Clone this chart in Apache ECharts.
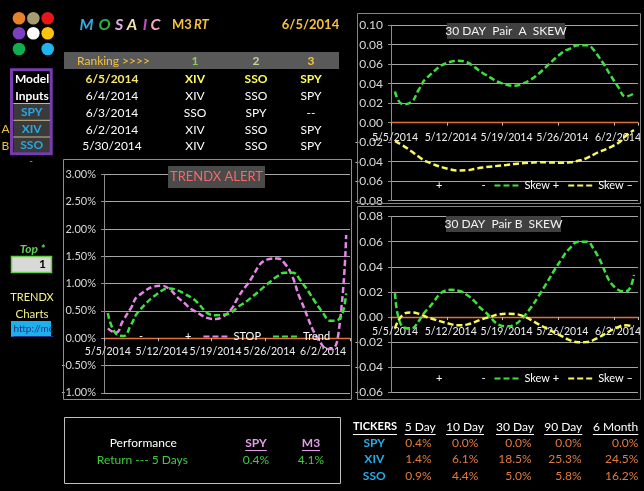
<!DOCTYPE html>
<html><head><meta charset="utf-8">
<script src="https://cdn.jsdelivr.net/npm/echarts@6/dist/echarts.min.js"></script>
<style>html,body{margin:0;padding:0;background:#000;}#c{width:644px;height:491px;}</style>
</head><body><div id="c"></div>
<script>
// ---------- DATA ----------
const daysAB = ['5/5/2014','5/6/2014','5/7/2014','5/8/2014','5/9/2014','5/10/2014','5/11/2014','5/12/2014','5/13/2014','5/14/2014','5/15/2014','5/16/2014','5/17/2014','5/18/2014','5/19/2014','5/20/2014','5/21/2014','5/22/2014','5/23/2014','5/24/2014','5/25/2014','5/26/2014','5/27/2014','5/28/2014','5/29/2014','5/30/2014','5/31/2014','6/1/2014','6/2/2014','6/3/2014','6/4/2014'];
const daysC = daysAB.concat(['6/5/2014']);
const tradeAB = ['5/5/2014','5/6/2014','5/7/2014','5/8/2014','5/9/2014','5/12/2014','5/13/2014','5/14/2014','5/15/2014','5/16/2014','5/19/2014','5/20/2014','5/21/2014','5/22/2014','5/23/2014','5/26/2014','5/27/2014','5/28/2014','5/29/2014','5/30/2014','6/2/2014','6/3/2014','6/4/2014'];
const tradeC = tradeAB.concat(['6/5/2014']);

const skewAPlus  = [0.032,0.019,0.021,0.034,0.046,0.0625,0.0635,0.062,0.057,0.051,0.039,0.038,0.040,0.044,0.050,0.072,0.076,0.0795,0.0795,0.074,0.037,0.027,0.030];
const skewAMinus = [-0.019,-0.0235,-0.029,-0.035,-0.040,-0.048,-0.049,-0.0488,-0.0474,-0.046,-0.0433,-0.0423,-0.0416,-0.041,-0.0406,-0.041,-0.0406,-0.039,-0.0365,-0.0324,-0.021,-0.0133,-0.0075];
const skewBPlus  = [0.019,-0.008,-0.009,-0.003,0.0058,0.0217,0.021,0.0177,0.0125,0.0058,-0.0074,-0.006,-0.0008,0.007,0.0164,0.047,0.055,0.060,0.060,0.0535,0.0217,0.0204,0.0336];
const skewBMinus = [-0.009,0.0019,0.0037,0.0026,0.000,-0.0056,-0.0066,-0.006,-0.004,-0.0016,0.0026,0.0024,0.001,-0.002,-0.0056,-0.0154,-0.0185,-0.020,-0.0199,-0.018,-0.008,-0.0066,-0.0074];
const stopPct  = [0.18,0.10,0.33,0.55,0.78,0.96,0.90,0.76,0.64,0.52,0.35,0.40,0.52,0.76,0.96,1.45,1.46,1.37,1.13,0.73,-0.15,-0.20,0.09,1.89];
const trendPct = [0.46,0.09,0.04,0.24,0.49,0.87,0.91,0.88,0.81,0.73,0.42,0.43,0.47,0.58,0.67,1.02,1.13,1.20,1.20,1.07,0.46,0.32,0.34,0.82];

const rankHeads = ['1','2','3'];
const rankDates = ['6/5/2014','6/4/2014','6/3/2014','6/2/2014','5/30/2014'];
const rank1 = ['XIV','XIV','SSO','XIV','XIV'];
const rank2 = ['SSO','SSO','SPY','SSO','SSO'];
const rank3 = ['SPY','SPY','--','SPY','SPY'];
const modelInputs = ['SPY','XIV','SSO'];
const tickers = ['SPY','XIV','SSO'];
const periods = ['5 Day','10 Day','30 Day','90 Day','6 Month'];
const retSPY = [0.4,0.0,0.0,0.0,0.0];
const retXIV = [1.4,6.1,18.5,25.3,24.5];
const retSSO = [0.9,4.4,5.0,5.8,16.2];
const perfSPY = 0.4, perfM3 = 4.1;

// ---------- COLORS ----------
const GREEN = '#3ee03e', YELLOW = '#f7f760', PINK = '#e886e8';
const GRID = '#a6a6a6', ZERO = '#e2703a', FONT = 'Lato';

const cv = document.createElement('canvas').getContext('2d');
function tw(s, font){ cv.font = font; return cv.measureText(s).width; }

const G = [];
function T(x,y,s,fill,font,align,z){ G.push({type:'text', x:x, y:y, z:z||20, style:{text:s, fill:fill, font:font, align:align||'center', verticalAlign:'middle'}}); }
function R(x,y,w,h,fill,stroke,lw,z){ G.push({type:'rect', z:z||5, shape:{x:x,y:y,width:w,height:h}, style:{fill:fill||'transparent', stroke:stroke||'transparent', lineWidth:lw||0}}); }
function L(x1,y1,x2,y2,c,lw){ G.push({type:'line', z:20, shape:{x1:x1,y1:y1,x2:x2,y2:y2}, style:{stroke:c, lineWidth:lw||1}}); }
function Cc(cx,cy,r,fill){ G.push({type:'circle', z:20, shape:{cx:cx,cy:cy,r:r}, style:{fill:fill}}); }
function U(x,y,s,fill,font,align){ T(x,y,s,fill,font,align); const w=tw(s,font); let x0 = align==='right'? x-w : (align==='left'? x : x-w/2); L(x0, Math.round(y+7)+0.5, x0+w, Math.round(y+7)+0.5, fill, 1); }

// logo
const logo = [[19,18.3,'#e8812b'],[33.3,18.3,'#a59c72'],[47.7,18.3,'#e8151b'],[19,33.3,'#7b3fbf'],[33.3,33.3,'#ffffff'],[47.7,33.3,'#ffc20e'],[19,49,'#0fae4f'],[47.7,49,'#1fb5ee']];
logo.forEach(c=>Cc(c[0],c[1],6.3,c[2]));
// title
const mos = [['M',86.5,'#36a9e1'],['O',104.5,'#27b24a'],['S',119,'#dcaee0'],['A',132,'#f2e6a8'],['I',145,'#c04ac8'],['C',155.5,'#f2a8c4']];
mos.forEach(m=>T(m[1],24.5,m[0],m[2],'italic bold 16px '+FONT));
T(172,25,'M3','#f5c23c','bold 13px '+FONT,'left');
T(194,25,'RT','#f5c23c','italic bold 13px '+FONT,'left');
T(310.5,25,'6/5/2014','#f5c23c','bold 13px '+FONT);
// ranking bar
R(64,52,275,17,'#595959',null,0,5);
T(113.5,61,'Ranking >>>>','#f5c23c','12px '+FONT);
const headCols = [195,256,311], headColors = ['#8fd14f','#c3d69b','#f5c23c'];
rankHeads.forEach((h,i)=>T(headCols[i],61,h,headColors[i],'bold 12px '+FONT));
const rowY = [79.3,96.3,113.3,130,146.3];
rankDates.forEach((d,i)=>{
  const first = i===0, c = first ? '#ffff55' : '#ffffff', f = (first?'bold ':'')+'12px '+FONT;
  T(112,rowY[i],d,first?'#f5e66b':'#ffffff',f);
  T(195,rowY[i],rank1[i],c,f); T(256,rowY[i],rank2[i],c,f); T(311,rowY[i],rank3[i],c,f);
});
// model inputs box
R(13.3,104,36.7,48.7,'#3a3a3a',null,0,4);
L(13.3,103.5,50,103.5,'#c9b98a',1); L(13.3,120.3,50,120.3,'#c9b98a',1); L(13.3,137,50,137,'#c9b98a',1);
R(11.5,69.8,39.7,84,null,'#7a3bb0',3,6);
T(32,79.3,'Model','#ffffff','bold 12px '+FONT);
T(32,96.3,'Inputs','#ffffff','bold 12px '+FONT);
modelInputs.forEach((m,i)=>T(31.7,[112.3,129,145.5][i],m,'#2aa7e1','bold 12px '+FONT));
T(5.5,129.5,'A','#f0c040','12px '+FONT); T(5.5,146,'B','#f0c040','12px '+FONT);
T(31,161,'-','#aaaaaa','10px '+FONT);
// top box
T(32.5,249,'Top *','#5fd35b','italic bold 12px '+FONT);
R(11.5,256.5,40,16,'#d9d9d9','#66cc44',1.5,6);
T(46,264.5,'1','#000000','bold 12px '+FONT,'right');
T(32,297.3,'TRENDX','#f5f08a','11px '+FONT);
T(32,314,'Charts','#f5f08a','11.5px '+FONT);
R(11,321,40,15.7,'#1db0ee',null,0,6);
U(13.5,328.8,'http://mc','#26337a','10px '+FONT,'left');
// chart borders
R(357.5,13.5,283,190,null,'#858585',1,1);
R(357.5,206.5,283,193,null,'#858585',1,1);
R(63.5,159.5,288,240,null,'#8f8f8f',1,1);
// chart titles
R(447,23,118,16,'#404040',null,0,10); T(506,31.3,'30 DAY  Pair  A  SKEW','#f2f2f2','12px '+FONT,'center',11);
R(446,216,115,16,'#404040',null,0,10); T(503.5,224,'30 DAY  Pair B  SKEW','#f2f2f2','12px '+FONT,'center',11);
R(168,166,97,22,'#4a4a4a',null,0,10); T(216.5,177,'TRENDX ALERT','#f26a6a','13px '+FONT,'center',11);
// performance box
R(64.5,417.5,276,66,null,'#bfbfbf',1,5);
T(143.3,443.3,'Performance','#ffffff','12px '+FONT);
T(142.3,460,'Return --- 5 Days','#3fcc3f','12px '+FONT);
U(256,443,'SPY','#e49ee6','bold 12px '+FONT,'center');
U(311,443,'M3','#e49ee6','bold 12px '+FONT,'center');
T(256,460,perfSPY.toFixed(1)+'%','#3fcc3f','12px '+FONT);
T(311,460,perfM3.toFixed(1)+'%','#3fcc3f','12px '+FONT);
// tickers table
U(375,426.7,'TICKERS','#ffffff','bold 11px '+FONT,'center');
const headR = [435.7,484,534,582.3,638.3], valR = [431.7,478.3,531.7,581.7,638.3];
periods.forEach((p,i)=>U(headR[i],426.7,p,'#ffffff','12px '+FONT,'right'));
const rets = [retSPY,retXIV,retSSO], tY = [442.7,459.3,476];
tickers.forEach((t,r)=>{
  T(374.3,tY[r],t,'#22aee8','bold 12px '+FONT);
  rets[r].forEach((v,i)=>T(valR[i],tY[r],v.toFixed(1)+'%','#e27c3e','12px '+FONT,'right'));
});

// ---------- CHARTS ----------
const grids = [
  {left:391, top:25.2, width:248, height:175.5},
  {left:391, top:216.5, width:248, height:176},
  {left:104, top:174.4, width:246, height:218.4}
];
const yRanges = [[-0.08,0.10,0.02],[-0.06,0.08,0.02],[-1,3,0.5]];

function ln(name, xi, dates, vals, color){
  return {type:'line', name:name, xAxisIndex:xi, yAxisIndex:xi, data:dates.map((d,i)=>[d, vals[i]]), smooth:0.5, symbol:'none', showSymbol:false, z:3,
    lineStyle:{color:color, width:2.5, type:[6,3]}, itemStyle:{color:color}};
}
function dummy(name, xi){
  return {type:'line', name:name, xAxisIndex:xi, yAxisIndex:xi, data:[], symbol:'none', lineStyle:{color:'rgba(0,0,0,0)'}, itemStyle:{color:'rgba(0,0,0,0)'}};
}
function xAx(gi, days, margin){
  const r = yRanges[gi];
  const off = -grids[gi].height * (0 - r[0]) / (r[1] - r[0]);   // put the category axis on the zero line
  return {type:'category', gridIndex:gi, data:days, boundaryGap:true, position:'bottom', offset:off,
    axisLine:{onZero:false, lineStyle:{color:ZERO, width:1.3}},
    axisTick:{show:true, interval:6, length:3, lineStyle:{color:'#bfbfbf'}},
    axisLabel:{interval:6, color:'#eeeeee', fontSize:10.5, fontFamily:FONT, margin:margin},
    splitLine:{show:false}};
}
function yAx(gi, fmt, fs, colors){
  const r = yRanges[gi];
  return {type:'value', gridIndex:gi, min:r[0], max:r[1], interval:r[2],
    axisLine:{show:true, lineStyle:{color:'#8c8c8c'}},
    axisTick:{show:true, length:3, lineStyle:{color:'#8c8c8c'}},
    splitLine:{show:true, lineStyle:{color:colors||GRID, width:1}},
    axisLabel:{color:'#d9d9d9', fontSize:fs, fontFamily:FONT, margin:8, formatter:fmt}};
}
const f2 = v => (Math.abs(v)<1e-9?0:v).toFixed(2);
const fp = v => (Math.abs(v)<1e-9?0:v).toFixed(2)+'%';
const hideA = [GRID,GRID,GRID,'rgba(0,0,0,0)',GRID,GRID,GRID,GRID,GRID,GRID];

const legendBase = {orient:'horizontal', padding:0, itemWidth:25, itemHeight:10, selectedMode:false,
  itemStyle:{opacity:0},
  textStyle:{color:'#ffffff', fontSize:11, fontFamily:FONT}};

const option = {
  backgroundColor:'#000000',
  animation:false,
  grid:grids,
  xAxis:[xAx(0,daysAB,9), xAx(1,daysAB,9), xAx(2,daysC,8)],
  yAxis:[ yAx(0,f2,12,hideA), yAx(1,f2,12), yAx(2,fp,11) ],
  legend:[
    Object.assign({}, legendBase, {left:405, top:180, itemGap:8, data:['+','-','Skew +','Skew –']}),
    Object.assign({}, legendBase, {left:405, top:373, itemGap:8, data:['+','-','Skew +','Skew –']}),
    Object.assign({}, legendBase, {left:108, top:331, itemGap:11, data:['-','+','STOP','Trend']})
  ],
  series:[
    dummy('+',0), dummy('-',0),
    ln('Skew +',0,tradeAB,skewAPlus,GREEN),
    ln('Skew –',0,tradeAB,skewAMinus,YELLOW),
    ln('Skew +',1,tradeAB,skewBPlus,GREEN),
    ln('Skew –',1,tradeAB,skewBMinus,YELLOW),
    ln('STOP',2,tradeC,stopPct,PINK),
    ln('Trend',2,tradeC,trendPct,GREEN)
  ],
  graphic:{elements:G}
};
const chart = echarts.init(document.getElementById('c'), null, {renderer:'canvas'});
chart.setOption(option);
</script>
</body></html>
